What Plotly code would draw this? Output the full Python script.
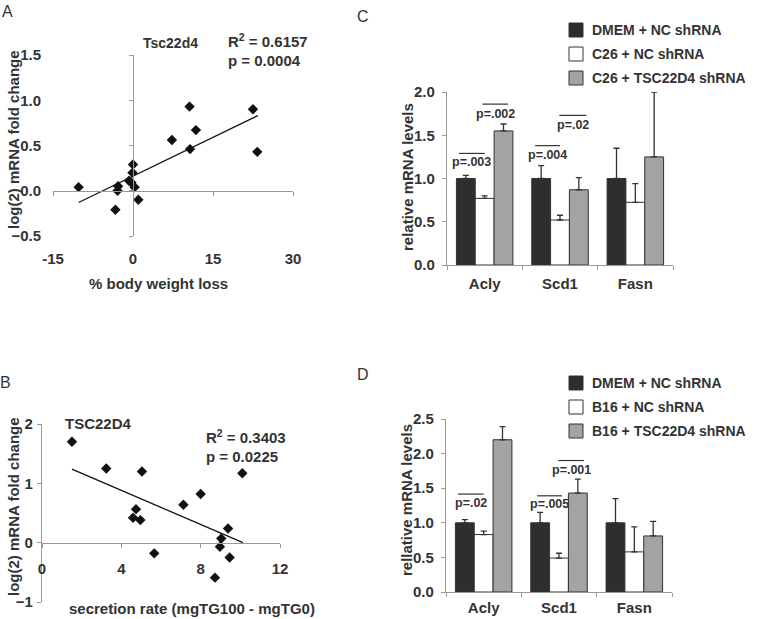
import plotly.graph_objects as go

W, H = 757, 619

# Panel A: % body weight loss vs log2 Tsc22d4 fold change
a_x = [-10.2, -2.8, -2.9, -3.3, 0.0, -0.1, -0.75, -0.3, 0.3, 1.0, 7.3, 10.6, 10.7, 11.8, 22.5, 23.3]
a_y = [0.04, 0.05, 0.0, -0.21, 0.29, 0.20, 0.11, 0.09, 0.04, -0.10, 0.56, 0.93, 0.46, 0.67, 0.90, 0.43]
a_fit_x = [-10.2, 23.4]
a_fit_y = [-0.13, 0.83]

# Panel B: secretion rate vs log2 TSC22D4 fold change
b_x = [1.51, 3.24, 5.04, 4.74, 4.59, 4.96, 5.66, 7.13, 8.0, 10.1, 9.38, 9.04, 8.97, 9.46, 8.72]
b_y = [1.70, 1.25, 1.20, 0.565, 0.42, 0.38, -0.18, 0.64, 0.82, 1.17, 0.24, 0.07, -0.07, -0.25, -0.59]
b_fit_x = [1.51, 10.13]
b_fit_y = [1.24, 0.0]

genes = ["Acly", "Scd1", "Fasn"]

# Panel C
c_names = ["DMEM + NC shRNA", "C26 + NC shRNA", "C26 + TSC22D4 shRNA"]
c_vals = [[1.0, 1.0, 1.0], [0.77, 0.52, 0.725], [1.55, 0.87, 1.25]]
c_err = [[0.035, 0.15, 0.35], [0.03, 0.055, 0.215], [0.08, 0.14, 0.75]]
c_sig_text = ["p=.003", "p=.002", "p=.004", "p=.02"]
c_sig_x0 = [-0.34, -0.03, 0.67, 0.99]
c_sig_x1 = [0.0, 0.31, 1.0, 1.35]
c_sig_y = [1.29, 1.86, 1.38, 1.73]
c_sig_ty = [1.19, 1.74, 1.27, 1.62]

# Panel D
d_names = ["DMEM + NC shRNA", "B16 + NC shRNA", "B16 + TSC22D4 shRNA"]
d_vals = [[1.0, 1.0, 1.0], [0.83, 0.49, 0.58], [2.20, 1.43, 0.81]]
d_err = [[0.045, 0.15, 0.35], [0.05, 0.07, 0.36], [0.19, 0.2, 0.21]]
d_sig_text = ["p=.02", "p=.0005", "p=.005", "p=.001"]
d_sig_x0 = [-0.34, -0.01, 0.71, 0.99]
d_sig_x1 = [0.0, 0.32, 1.04, 1.33]
d_sig_y = [1.415, 2.70, 1.39, 1.90]
d_sig_ty = [1.285, 2.54, 1.275, 1.77]

bar_colors = ["#2e2e2e", "#ffffff", "#a3a3a3"]
FONT = "Liberation Sans, Arial, sans-serif"
TXT = "#333333"
AX = "#999999"


def px(x):
    return x / W


def py(y):
    return 1 - y / H


fig = go.Figure()

# ---- scatter panels
fig.add_trace(go.Scatter(x=a_x, y=a_y, mode="markers", xaxis="x", yaxis="y",
                         marker=dict(symbol="diamond", size=8, color="#111"), showlegend=False))
fig.add_trace(go.Scatter(x=a_fit_x, y=a_fit_y, mode="lines", xaxis="x", yaxis="y",
                         line=dict(color="#111", width=1.3), showlegend=False))
fig.add_trace(go.Scatter(x=[None], y=[None], xaxis="x2", yaxis="y", showlegend=False))
fig.add_trace(go.Scatter(x=[None], y=[None], xaxis="x", yaxis="y2", showlegend=False))

fig.add_trace(go.Scatter(x=b_x, y=b_y, mode="markers", xaxis="x3", yaxis="y3",
                         marker=dict(symbol="diamond", size=8, color="#111"), showlegend=False))
fig.add_trace(go.Scatter(x=b_fit_x, y=b_fit_y, mode="lines", xaxis="x3", yaxis="y3",
                         line=dict(color="#111", width=1.3), showlegend=False))

# ---- bar panels
for i in range(3):
    fig.add_trace(go.Bar(x=genes, y=c_vals[i], name=c_names[i], xaxis="x4", yaxis="y4",
                         marker=dict(color=bar_colors[i], line=dict(color="#333", width=1)),
                         error_y=dict(type="data", array=c_err[i], arrayminus=[0, 0, 0], symmetric=False,
                                      color="#333", thickness=1.3, width=3),
                         showlegend=False))
for i in range(3):
    fig.add_trace(go.Bar(x=genes, y=d_vals[i], name=d_names[i], xaxis="x5", yaxis="y5",
                         marker=dict(color=bar_colors[i], line=dict(color="#333", width=1)),
                         error_y=dict(type="data", array=d_err[i], arrayminus=[0, 0, 0], symmetric=False,
                                      color="#333", thickness=1.3, width=3),
                         showlegend=False))

tick_font = dict(family=FONT, size=15, color=TXT, weight="bold")

# panel A domains
ax_dom = [px(53), px(293)]
ay_dom = [py(236), py(55)]
a_xpos = ay_dom[0] + (ay_dom[1] - ay_dom[0]) * 0.25
a_ypos = ax_dom[0] + (ax_dom[1] - ax_dom[0]) / 3

bx_dom = [px(42), px(280)]
by_dom = [py(602), py(424)]
b_xpos = by_dom[0] + (by_dom[1] - by_dom[0]) / 3

cx_dom = [px(447), px(673)]
cy_dom = [py(265), py(92)]
dx_dom = [px(446), px(672)]
dy_dom = [py(592), py(419)]

line_ax = dict(showline=True, linecolor=AX, linewidth=1.2, ticks="outside", ticklen=4,
               tickcolor=AX, showgrid=False, zeroline=False, fixedrange=True, automargin=False)

fig.update_layout(
    width=W, height=H, margin=dict(l=0, r=0, t=0, b=0, autoexpand=False),
    paper_bgcolor="white", plot_bgcolor="rgba(0,0,0,0)",
    font=dict(family=FONT, size=15, color=TXT, weight="bold"),
    barmode="group", bargap=0.25, bargroupgap=0, showlegend=False,
    xaxis=dict(domain=ax_dom, range=[-15, 30], anchor="free", position=a_xpos,
               tickvals=[-15, 0, 15, 30], showticklabels=False, **line_ax),
    yaxis=dict(domain=ay_dom, range=[-0.5, 1.5], anchor="free", position=a_ypos,
               tickvals=[-0.5, 0, 0.5, 1.0, 1.5], showticklabels=False, **line_ax),
    xaxis2=dict(domain=ax_dom, range=[-15, 30], overlaying="x", anchor="y", side="bottom",
                tickvals=[-15, 0, 15, 30], ticktext=["-15", "0", "15", "30"], showline=False,
                showgrid=False, zeroline=False, ticks="", ticklabelstandoff=12, tickfont=tick_font,
                automargin=False),
    yaxis2=dict(domain=ay_dom, range=[-0.5, 1.5], overlaying="y", anchor="x", side="left",
                tickvals=[-0.5, 0, 0.5, 1.0, 1.5], tickformat=".1f", showline=False,
                showgrid=False, zeroline=False, ticks="", ticklabelstandoff=11, tickfont=tick_font,
                automargin=False),
    xaxis3=dict(domain=bx_dom, range=[0, 12], anchor="free", position=b_xpos,
                tickvals=[0, 4, 8, 12], ticklabelstandoff=8, tickfont=tick_font, **line_ax),
    yaxis3=dict(domain=by_dom, range=[-1, 2], anchor="x3",
                tickvals=[-1, 0, 1, 2], ticklabelstandoff=1, tickfont=tick_font, **line_ax),
    xaxis4=dict(domain=cx_dom, anchor="y4", range=[-0.5, 2.5], tickson="boundaries",
                ticklabelstandoff=5, tickfont=tick_font, **line_ax),
    yaxis4=dict(domain=cy_dom, anchor="x4", range=[0, 2.0], tickvals=[0, 0.5, 1.0, 1.5, 2.0],
                tickformat=".1f", ticklabelstandoff=4, tickfont=tick_font, **line_ax),
    xaxis5=dict(domain=dx_dom, anchor="y5", range=[-0.5, 2.5], tickson="boundaries",
                ticklabelstandoff=2, tickfont=tick_font, **line_ax),
    yaxis5=dict(domain=dy_dom, anchor="x5", range=[0, 2.5], tickvals=[0, 0.5, 1.0, 1.5, 2.0, 2.5],
                tickformat=".1f", ticklabelstandoff=4, tickfont=tick_font, **line_ax),
)

# significance bars and labels
for t, x0, x1, yl, ty in zip(c_sig_text, c_sig_x0, c_sig_x1, c_sig_y, c_sig_ty):
    fig.add_shape(type="line", xref="x4", yref="y4", x0=x0, x1=x1, y0=yl, y1=yl,
                  line=dict(color="#333", width=1.2))
    fig.add_annotation(xref="x4", yref="y4", x=(x0 + x1) / 2, y=ty, text=t, showarrow=False,
                       font=dict(size=12.5))
for t, x0, x1, yl, ty in zip(d_sig_text, d_sig_x0, d_sig_x1, d_sig_y, d_sig_ty):
    fig.add_shape(type="line", xref="x5", yref="y5", x0=x0, x1=x1, y0=yl, y1=yl,
                  line=dict(color="#333", width=1.2))
    fig.add_annotation(xref="x5", yref="y5", x=(x0 + x1) / 2, y=ty, text=t, showarrow=False,
                       font=dict(size=12.5))


# text labels
def note(x, y, text, size=15, weight="bold", anchor="center", angle=0):
    fig.add_annotation(xref="paper", yref="paper", x=px(x), y=py(y), text=text, showarrow=False,
                       xanchor=anchor, yanchor="middle", textangle=angle,
                       font=dict(family=FONT, size=size, color=TXT, weight=weight))


# hand-drawn legends (swatch + label) for the two bar panels
for names, top in [(c_names, 30), (d_names, 383)]:
    for i, name in enumerate(names):
        yc = top + 24 * i
        fig.add_shape(type="rect", xref="paper", yref="paper",
                      x0=px(569), x1=px(583), y0=py(yc + 7), y1=py(yc - 7),
                      fillcolor=bar_colors[i], line=dict(color="#333", width=1))
        note(590, yc, name, size=14, anchor="left")

note(7, 12, "A", size=16, weight="normal")
note(5, 382, "B", size=16, weight="normal")
note(363, 16, "C", size=16, weight="normal")
note(363, 374, "D", size=16, weight="normal")

note(170, 43, "Tsc22d4", size=14)
note(226, 41, "R<sup>2</sup> = 0.6157", anchor="left")
note(226, 60, "p = 0.0004", anchor="left")
note(158, 283, "% body weight loss")
note(13, 140, "log(2) mRNA fold change", angle=-90)

note(98, 423, "TSC22D4")
note(204, 436, "R<sup>2</sup> = 0.3403", anchor="left")
note(204, 456, "p = 0.0225", anchor="left")
note(192, 608, "secretion rate (mgTG100 - mgTG0)")
note(13, 507, "log(2) mRNA fold change", angle=-90)

note(407, 177, "relative mRNA levels", angle=-90)
note(407, 500, "rellative mRNA levels", angle=-90)

# page body has a default margin; drop it so the figure fills the window
fig.write_html("out.html", config={"displayModeBar": False},
               post_script="document.body.style.margin='0';")
